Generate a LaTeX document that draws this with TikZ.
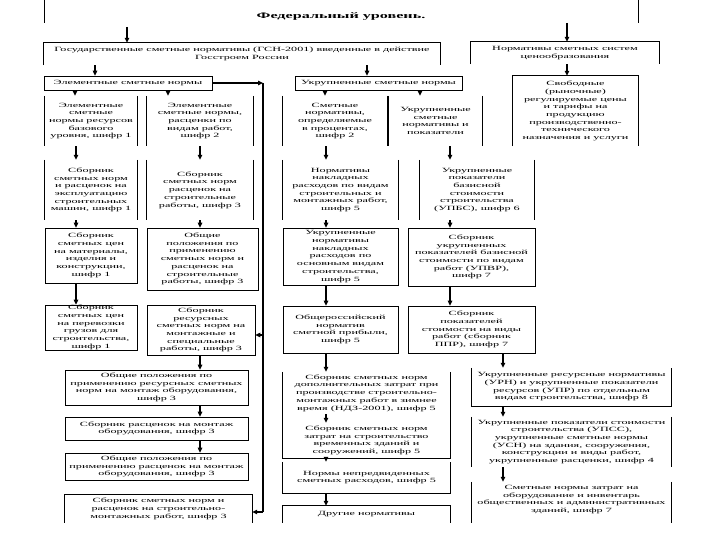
\documentclass[tikz,border=0pt]{standalone}
\usepackage{fontspec}
\setmainfont[FakeStretch=1.9]{Liberation Serif}
\usetikzlibrary{arrows.meta}
\tikzset{
  txt/.style={align=center, inner sep=0pt, font=\fontsize{6.4}{7.7}\selectfont},
  fullbox/.style={txt, draw, line width=0.7pt},
  openbox/.style={txt},
  boxline/.style={line width=0.7pt},
  arr/.style={line width=1.1pt, -{Triangle[length=5pt,width=4.5pt]}},
  vline/.style={line width=1.4pt}
}
\begin{document}
\begin{tikzpicture}[x=1pt,y=-1pt]
\fill[white] (0,0) rectangle (720,540);
\useasboundingbox (0,0) rectangle (720,540);
% x positions
\foreach \n/\v in {x75/75,x76/76,x95/95,x127/127,x168/168,x200/200,x325/325,x326/326,x367/367,x420/420,x450/450,x503/503,x567/567}
  \coordinate (\n) at (\v,0);
% top frame
\draw[boxline] (44,0) -- (44,23);
\draw[boxline] (638,0) -- (638,23);
\node[font=\fontsize{8.5}{10}\selectfont\bfseries] (title) at (341,16) {Федеральный уровень.};
\coordinate (tA) at (127,27);
\coordinate (tB) at (567,23);
% level 1
\node[openbox, minimum width=396pt, minimum height=22pt] (A) at (242,54) {Государственные сметные нормативы (ГСН-2001) введенные в действие\\Госстроем России};
\node[openbox, minimum width=188pt, minimum height=22pt] (B) at (565,53) {Нормативы сметных систем\\ценообразования};
% level 2
\node[fullbox, minimum width=168pt, minimum height=14pt] (E) at (128,83) {Элементные сметные нормы};
\node[fullbox, minimum width=167pt, minimum height=14pt] (U) at (378.5,83) {Укрупненные сметные нормы};
\node[openbox, minimum width=125pt, minimum height=70pt] (S) at (575.5,111) {Свободные\\(рыночные)\\регулируемые цены\\и тарифы на\\продукцию\\производственно-\\технического\\назначения и услуги};
% row 1
\node[openbox, minimum width=92pt, minimum height=50pt] (r1c1) at (91,121) {Элементные\\сметные\\нормы ресурсов\\базового\\уровня, шифр 1};
\node[openbox, minimum width=106pt, minimum height=50pt] (r1c2) at (200,121) {Элементные\\сметные нормы,\\расценки по\\видам работ,\\шифр 2};
\node[openbox, minimum width=104pt, minimum height=50pt] (r1c3) at (335,121) {Сметные\\нормативы,\\определяемые\\в процентах,\\шифр 2};
\node[openbox, minimum width=93pt, minimum height=50pt] (r1c4) at (435.5,121) {Укрупненные\\сметные\\нормативы и\\показатели};
% row 2
\node[openbox, minimum width=92pt, minimum height=60pt] (r2c1) at (91,190) {Сборник\\сметных норм\\и расценок на\\эксплуатацию\\строительных\\машин, шифр 1};
\node[openbox, minimum width=106pt, minimum height=60pt] (r2c2) at (200,190) {Сборник\\сметных норм\\расценок на\\строительные\\работы, шифр 3};
\node[openbox, minimum width=115pt, minimum height=60pt] (r2c3) at (340.5,190) {Нормативы\\накладных\\расходов по видам\\строительных и\\монтажных работ,\\шифр 5};
\node[openbox, minimum width=114pt, minimum height=60pt] (r2c4) at (477,190) {Укрупненные\\показатели\\базисной\\стоимости\\строительства\\(УПБС), шифр 6};
% row 3
\node[fullbox, minimum width=92pt, minimum height=55pt] (r3c1) at (91,255.5) {Сборник\\сметных цен\\на материалы,\\изделия и\\конструкции,\\шифр 1};
\node[fullbox, minimum width=111pt, minimum height=62pt] (r3c2) at (202.5,259) {Общие\\положения по\\применению\\сметных норм и\\расценок на\\строительные\\работы, шифр 3};
\node[fullbox, minimum width=115pt, minimum height=57pt] (r3c3) at (340.5,256.5) {Укрупненные\\нормативы\\накладных\\расходов по\\основным видам\\строительства,\\шифр 5};
\node[fullbox, minimum width=127pt, minimum height=58pt] (r3c4) at (471.5,257) {Сборник\\укрупненных\\показателей базисной\\стоимости по видам\\работ (УПВР),\\шифр 7};
% row 4
\node[fullbox, minimum width=92pt, minimum height=45pt] (r4c1) at (91,327.5) {Сборник\\сметных цен\\на перевозки\\грузов для\\строительства,\\шифр 1};
\node[fullbox, minimum width=108pt, minimum height=50pt] (r4c2) at (201,330) {Сборник\\ресурсных\\сметных норм на\\монтажные и\\специальные\\работы, шифр 3};
\node[fullbox, minimum width=115pt, minimum height=47pt] (r4c3) at (340.5,329.5) {Общероссийский\\норматив\\сметной прибыли,\\шифр 5};
\node[fullbox, minimum width=127pt, minimum height=47pt] (r4c4) at (471.5,329.5) {Сборник\\показателей\\стоимости на виды\\работ (сборник\\ППР), шифр 7};
% lower left
\node[fullbox, minimum width=183pt, minimum height=35pt] (ll1) at (156.5,387.5) {Общие положения по\\применению ресурсных сметных\\норм на монтаж оборудования,\\шифр 3};
\node[fullbox, minimum width=183pt, minimum height=23pt] (ll2) at (156.5,428.5) {Сборник расценок на монтаж\\оборудования, шифр 3};
\node[fullbox, minimum width=183pt, minimum height=27pt] (ll3) at (156.5,466.5) {Общие положения по\\применению расценок на монтаж\\оборудования, шифр 3};
\node[openbox, minimum width=187pt, minimum height=28pt] (ll4) at (158.5,509) {Сборник сметных норм и\\расценок на строительно-\\монтажных работ, шифр 3};
% lower middle
\node[openbox, minimum width=167pt, minimum height=42pt] (lm1) at (366.5,393) {Сборник сметных норм\\дополнительных затрат при\\производстве строительно-\\монтажных работ в зимнее\\время (НДЗ-2001), шифр 5};
\node[openbox, minimum width=167pt, minimum height=35pt] (lm2) at (366.5,440.5) {Сборник сметных норм\\затрат на строительство\\временных зданий и\\сооружений, шифр 5};
\node[openbox, minimum width=167pt, minimum height=31pt] (lm3) at (366.5,477.5) {Нормы непредвиденных\\сметных расходов, шифр 5};
\node[openbox, minimum width=167pt, minimum height=16pt] (lm4) at (366.5,514) {Другие нормативы};
% lower right
\node[openbox, minimum width=199pt, minimum height=38pt] (lr1) at (571.5,387) {Укрупненные ресурсные нормативы\\(УРН) и укрупненные показатели\\ресурсов (УПР) по отдельным\\видам строительства, шифр 8};
\node[openbox, minimum width=199pt, minimum height=50pt] (lr2) at (571.5,442) {Укрупненные показатели стоимости\\строительства (УПСС),\\укрупненные сметные нормы\\(УСН) на здания, сооружения,\\конструкции и виды работ,\\укрупненные расценки, шифр 4};
\node[openbox, minimum width=199pt, minimum height=35pt] (lr3) at (571.5,499.5) {Сметные нормы затрат на\\оборудование и инвентарь\\общественных и административных\\зданий, шифр 7};
% partial outlines
\foreach \n in {A,B,S}
  \draw[boxline] (\n.south west) -- (\n.north west) -- (\n.north east) -- (\n.south east);
\foreach \n in {r1c1,r1c2,r1c3,r1c4,r2c1,r2c2,r2c3,r2c4,lr2}
  \draw[boxline] (\n.north west) -- (\n.south west) (\n.north east) -- (\n.south east);
\foreach \n in {lr1,lm2,lm3}
  \draw[boxline] (\n.north west) -- (\n.south west) -- (\n.south east) -- (\n.north east);
\draw[boxline] (lm1.north west) -- (lm2.north west) (lm1.north east) -- (lm2.north east);
\draw[boxline] (ll4.north west) ++(0,28) -- (ll4.north west) -- (ll4.north east) -- ++(0,28);
\draw[boxline] (lm4.north west) ++(0,17) -- (lm4.north west) -- (lm4.north east) -- ++(0,17);
\draw[boxline] (lr3.north west) -- ++(0,41) (lr3.north east) -- ++(0,41);
% arrows
\draw[arr] (tA) -- (x127 |- A.north);
\draw[arr] (tB) -- (x567 |- B.north);
\draw[arr] (x95 |- A.south) -- (x95 |- E.north);
\draw[arr] (x367 |- A.south) -- (x367 |- U.north);
\draw[arr] (x567 |- B.south) -- (x567 |- S.north);
\draw[arr] (x75 |- E.south) -- (x75 |- r1c1.north);
\draw[arr] (x168 |- E.south) -- (x168 |- r1c2.north);
\draw[arr] (x325 |- U.south) -- (x325 |- r1c3.north);
\draw[arr] (x420 |- U.south) -- (x420 |- r1c4.north);
\draw[arr] (x76 |- r1c1.south) -- (x76 |- r2c1.north);
\draw[arr] (x200 |- r1c2.south) -- (x200 |- r2c2.north);
\draw[arr] (x326 |- r1c3.south) -- (x326 |- r2c3.north);
\draw[arr] (x450 |- r1c4.south) -- (x450 |- r2c4.north);
\draw[arr] (x76 |- r2c1.south) -- (x76 |- r3c1.north);
\draw[arr] (x200 |- r2c2.south) -- (x200 |- r3c2.north);
\draw[arr] (x326 |- r2c3.south) -- (x326 |- r3c3.north);
\draw[arr] (x450 |- r2c4.south) -- (x450 |- r3c4.north);
\draw[arr] (x76 |- r3c1.south) -- (x76 |- r4c1.north);
\draw[arr] (x326 |- r3c3.south) -- (x326 |- r4c3.north);
\draw[arr] (x450 |- r3c4.south) -- (x450 |- r4c4.north);
\draw[arr] (x200 |- r4c2.south) -- (x200 |- ll1.north);
\draw[arr] (x200 |- ll1.south) -- (x200 |- ll2.north);
\draw[arr] (x200 |- ll2.south) -- (x200 |- ll3.north);
\draw[arr] (x326 |- r4c3.south) -- (x326 |- lm1.north);
\draw[arr] (x326 |- lm1.south) -- (x326 |- lm2.north);
\draw[arr] (x326 |- lm2.south) -- (x326 |- lm3.north);
\draw[arr] (x326 |- lm3.south) -- (x326 |- lm4.north);
\draw[arr] (x503 |- r4c4.south) -- (x503 |- lr1.north);
\draw[arr] (x503 |- lr1.south) -- (x503 |- lr2.north);
\draw[arr] (x503 |- lr2.south) -- (x503 |- lr3.north);
% side bus
\coordinate (vtop) at (263,83);
\coordinate (vmid) at (263,335);
\coordinate (vbot) at (263,512);
\draw[arr] (E.east) -- (vtop);
\draw[vline] (vtop) -- (vbot);
\draw[arr] (vmid) -- (vmid -| r4c2.east);
\draw[arr] (vbot) -- (vbot -| ll4.east);
\end{tikzpicture}
\end{document}
